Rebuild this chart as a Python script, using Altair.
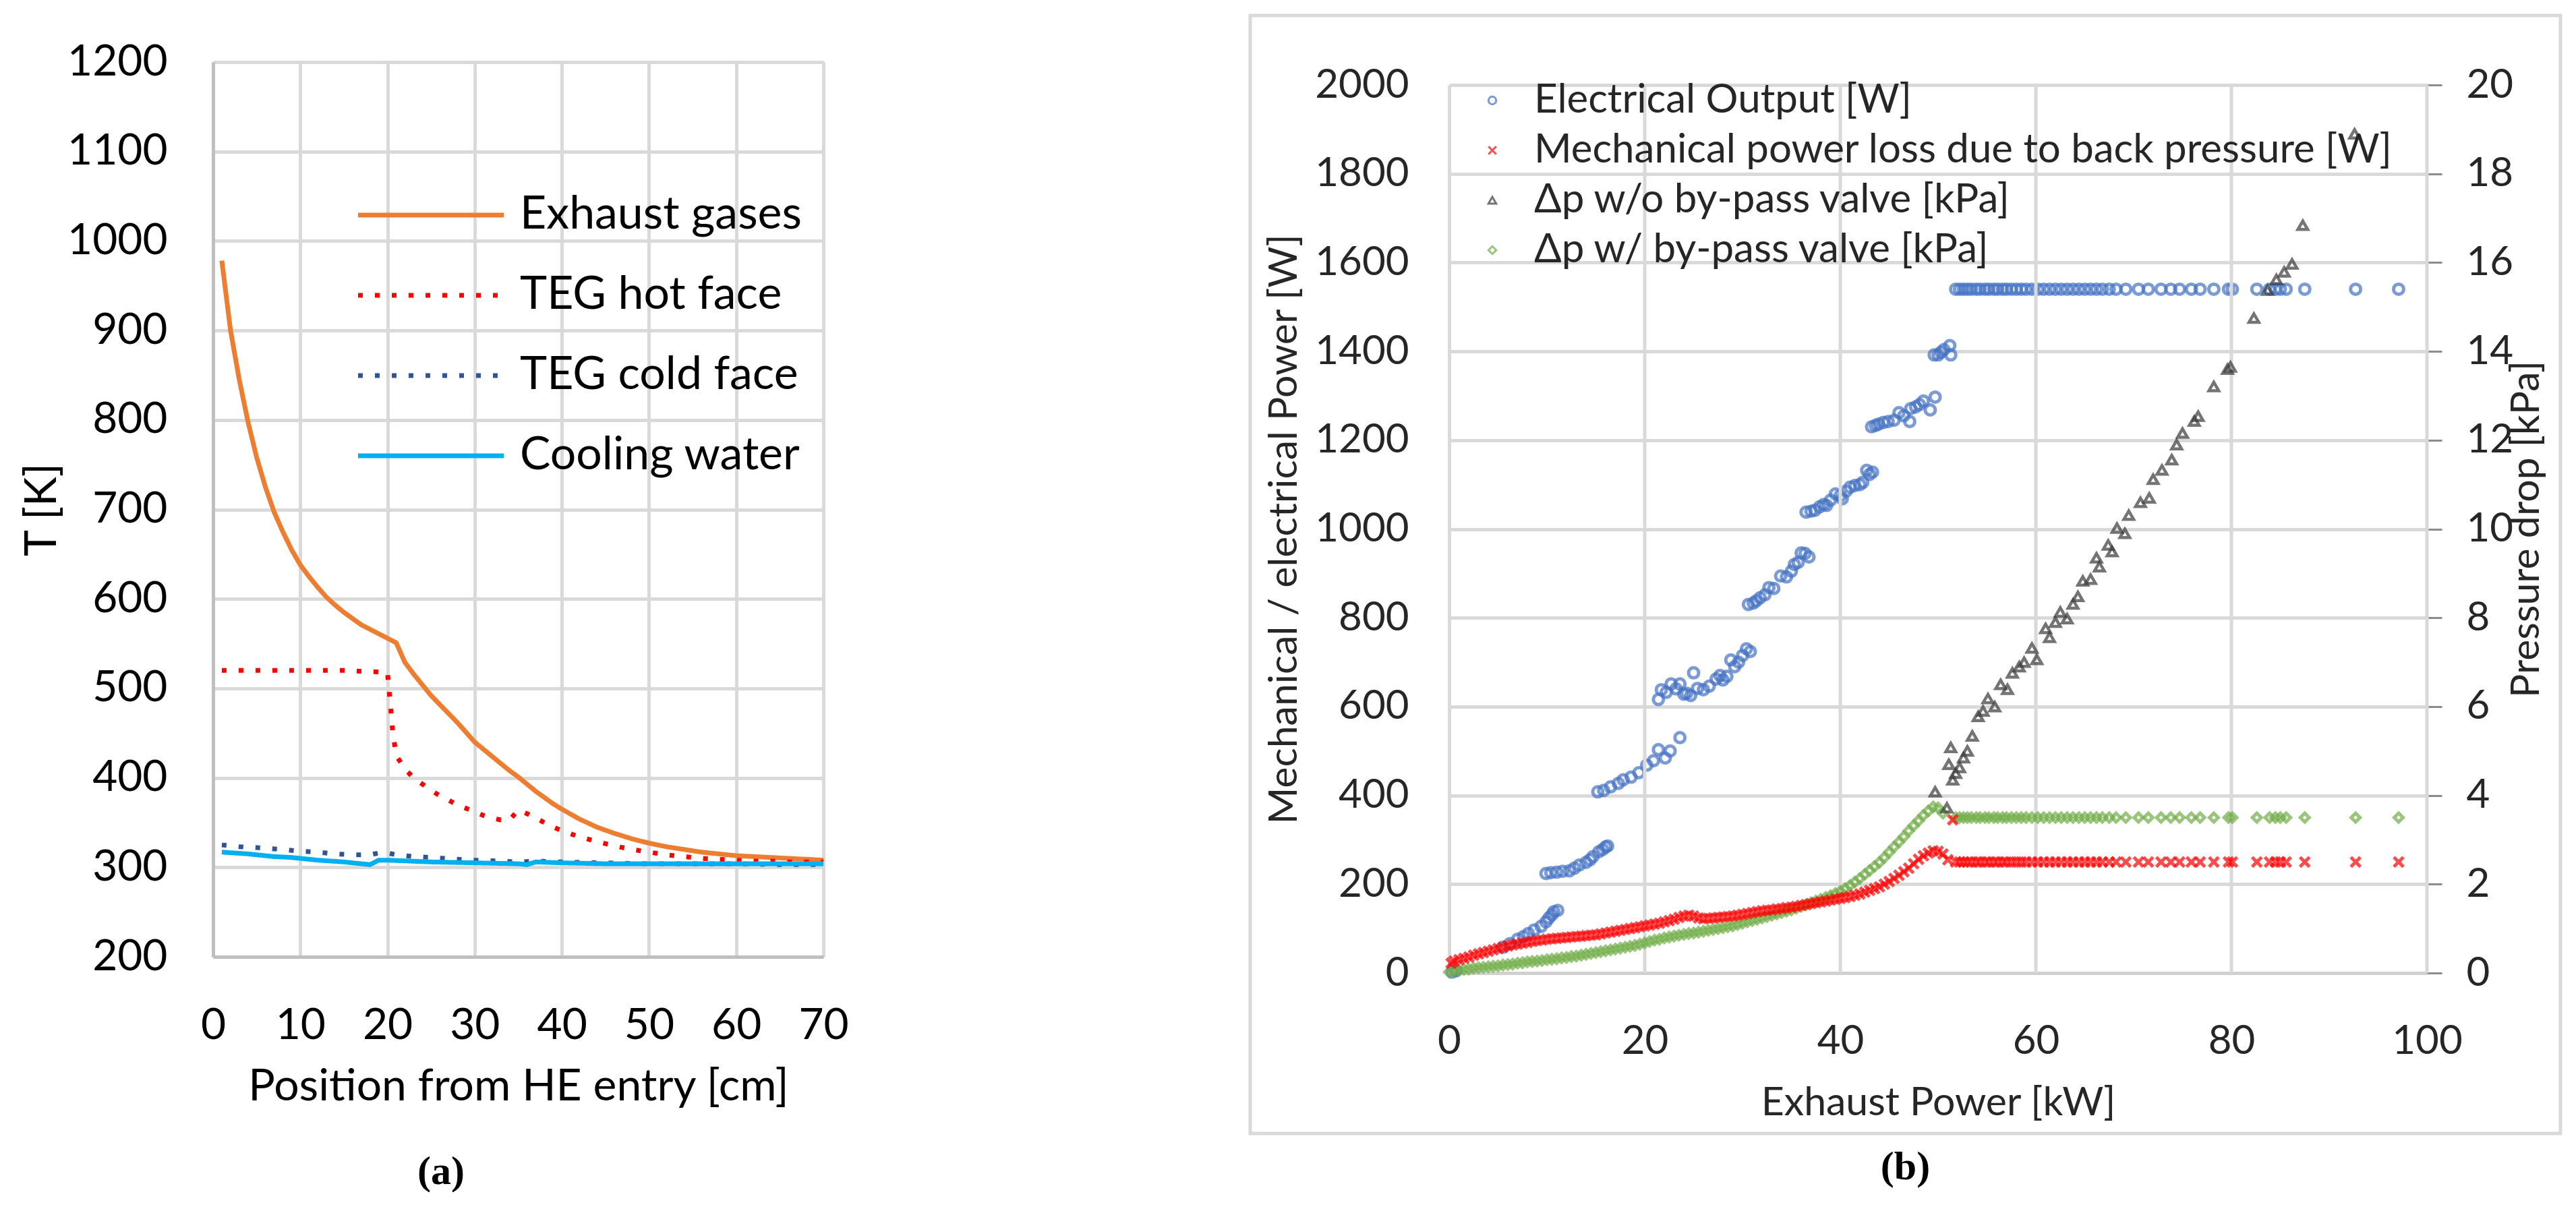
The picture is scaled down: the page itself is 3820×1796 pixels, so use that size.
import altair as alt
import pandas as pd

# ---------------- Panel (a): temperatures along the heat exchanger ----------------
names_a = ["Exhaust gases", "TEG hot face", "TEG cold face", "Cooling water"]
colors_a = ["#ED7D31", "#FF0000", "#2F5597", "#00B0F0"]
dashes_a = [[1, 0], [7, 18], [7, 18], [1, 0]]

exh_x = [1, 2, 3, 4, 5, 6, 7, 8, 9, 10, 11, 12, 13, 14, 15, 16, 17, 18, 19, 20,
         21, 22, 23, 24, 25, 26, 27, 28, 29, 30, 31, 32, 33, 34, 35, 36, 37, 38, 39, 40,
         42, 44, 46, 48, 50, 52, 54, 56, 58, 60, 62, 64, 66, 68, 70]
exh_T = [978, 900, 845, 798, 758, 725, 697, 675, 655, 638, 625, 613, 602, 593, 585, 578, 571, 566, 561, 556,
         551, 529, 516, 504, 492, 482, 472, 462, 451, 440, 432, 424, 416, 408, 401, 393, 385, 378, 371, 365,
         354, 345, 338, 332, 327, 323, 320, 317, 315, 313, 312, 311, 310, 309, 308]

hot_x = [1, 5, 10, 15, 20, 20.3, 20.6, 21, 22, 23, 24, 25, 26, 27, 28, 29, 30, 31, 32, 33, 34, 35, 36, 37,
         38, 39, 40, 42, 44, 46, 48, 50, 52, 54, 56, 58, 60, 62, 64, 66, 68, 70]
hot_T = [520, 520, 520, 520, 518, 485, 452, 425, 410, 400, 393, 386, 380, 375, 370, 366, 362, 358, 355, 353,
         353, 364, 360, 355, 350, 345, 341, 334, 329, 324, 320, 317, 314, 312, 310, 309, 308, 307, 307, 306,
         306, 306]

cold_x = [1, 3, 5, 8, 10, 12, 14, 16, 18, 19, 20, 21, 23, 25, 28, 30, 33, 35, 37, 40, 45, 50, 55, 60, 65, 70]
cold_T = [325, 323, 322, 320, 318, 317, 315, 314, 314, 316, 316, 314, 312, 311, 309, 308, 307, 306, 307, 306,
          305, 304, 304, 304, 303, 303]

cool_x = [1, 4, 7, 9, 12, 15, 18, 19, 20, 25, 30, 35, 36, 37, 40, 45, 50, 55, 60, 65, 70]
cool_T = [317, 315, 312, 311, 308, 306, 303, 308, 308, 306, 305, 304, 303, 306, 305, 304, 304, 304, 304, 304, 304]

# ---------------- Panel (b): power and pressure drop vs exhaust power ----------------
names_b = ["Electrical Output [W]", "Mechanical power loss due to back pressure [W]",
           "Δp w/o by-pass valve [kPa]", "Δp w/ by-pass valve [kPa]"]
colors_b = ["#4472C4", "#FF0000", "#3A3A3A", "#70AD47"]
shapes_b = ["circle", "M-1,-1L1,1M-1,1L1,-1", "triangle-up", "diamond"]
xgrid_b = [20, 40, 60, 80, 100]

flat_x = [51.8, 52.2, 52.6, 53.0, 53.4, 53.9, 54.3, 54.8, 55.2, 55.7, 56.1, 56.6, 57.0, 57.5, 58.0, 58.5,
          59.0, 59.6, 60.2, 60.8, 61.4, 62.0, 62.6, 63.2, 63.8, 64.4, 65.0, 65.6, 66.2, 66.8, 67.5, 68.2,
          69.2, 70.5, 71.5, 72.8, 73.8, 74.7, 75.9, 76.8, 78.2, 79.7, 80.1, 82.6, 83.9, 84.5, 85.0, 85.6,
          87.5, 92.7, 97.1]

elec_x = [0.3, 0.7,
          5.5, 6.2, 7.0, 7.6, 8.1, 8.7, 9.4, 9.9, 10.2, 10.5, 10.7, 11.1,
          9.9, 10.4, 11.0, 11.6, 12.3, 12.8, 13.3, 14.0, 14.4, 14.7, 15.3, 15.7, 16.0, 16.2,
          15.2, 15.8, 16.5, 17.3, 17.8, 18.6, 19.4, 20.2, 20.9, 21.4, 22.1, 22.6, 23.6,
          21.4, 21.7, 22.2, 22.7, 23.2, 23.6, 24.0, 24.3, 24.7, 25.0, 25.4, 26.0, 26.6, 27.3, 27.7, 28.0,
          28.4, 28.8, 29.2, 29.6, 30.0, 30.4, 30.8,
          30.6, 31.1, 31.4, 31.8, 32.3, 32.7, 33.2, 33.9, 34.5, 35.0, 35.3, 35.7, 36.0, 36.4, 36.8,
          36.5, 37.0, 37.4, 37.9, 38.3, 38.6, 39.0, 39.5, 40.0, 40.2, 40.6, 41.0, 41.5, 42.0, 42.3, 42.7,
          43.0, 43.3,
          43.2, 43.6, 43.9, 44.4, 44.9, 45.5, 46.0, 46.5, 47.1, 47.2, 47.7, 48.1, 48.5, 49.2, 49.7,
          49.6, 50.0, 50.3, 50.6, 51.2, 51.3]
elec_y = [2, 5,
          58, 66, 76, 82, 89, 97, 105, 115, 124, 131, 138, 141,
          224, 226, 227, 229, 230, 236, 243, 249, 255, 262, 273, 278, 284, 286,
          408, 411, 419, 427, 435, 441, 451, 468, 478, 503, 484, 500, 530,
          616, 638, 632, 651, 640, 651, 628, 630, 625, 676, 641, 638, 646, 662, 670, 660,
          668, 705, 690, 700, 715, 730, 724,
          830, 833, 838, 845, 852, 868, 866, 894, 892, 905, 920, 925, 946, 945, 937,
          1038, 1040, 1042, 1050, 1055, 1053, 1065, 1079, 1075, 1068, 1085, 1094, 1098, 1100, 1105, 1132,
          1123, 1128,
          1230, 1233, 1236, 1240, 1242, 1245, 1262, 1255, 1242, 1271, 1275, 1280, 1288, 1268, 1297,
          1392, 1392, 1398, 1404, 1413, 1392]
elec_flat_y = 1540

mech_x = [0.2, 0.5, 1.0, 1.5, 2.0, 2.5, 3.0, 3.5, 4.0, 4.5, 5.0, 5.5, 6.0, 6.5, 7.0, 7.5, 8.0, 8.5, 9.0, 9.5,
          10.0, 10.5, 11.0, 11.5, 12.0, 12.5, 13.0, 13.5, 14.0, 14.5, 15.0, 15.5, 16.0, 16.5, 17.0, 17.5,
          18.0, 18.5, 19.0, 19.5, 20.0, 20.5, 21.0, 21.5, 22.0, 22.5, 23.0, 23.5, 24.0, 24.5, 25.0, 25.5,
          26.0, 26.5, 27.0, 27.5, 28.0, 28.5, 29.0, 29.5, 30.0, 30.5, 31.0, 31.5, 32.0, 32.5, 33.0, 33.5,
          34.0, 34.5, 35.0, 35.5, 36.0, 36.5, 37.0, 37.5, 38.0, 38.5, 39.0, 39.5, 40.0, 40.5, 41.0, 41.5,
          42.0, 42.5, 43.0, 43.5, 44.0, 44.5, 45.0, 45.5, 46.0, 46.5, 47.0, 47.5, 48.0, 48.5, 49.0, 49.5,
          50.0, 50.5, 51.0, 51.5]
mech_y = [22, 27, 30, 33, 36, 40, 43, 46, 49, 52, 55, 58, 61, 63, 65, 67, 69, 71, 73, 74,
          76, 77, 78, 79, 80, 81, 82, 83, 84, 85, 86, 88, 90, 92, 94, 96, 98, 100, 102, 104,
          106, 108, 110, 112, 115, 118, 121, 125, 128, 130, 128, 124, 122, 123, 124, 125, 126, 127, 128, 130,
          132, 134, 136, 138, 140, 141, 142, 144, 145, 147, 148, 150, 152, 154, 156, 158, 160, 162, 164, 166,
          168, 170, 172, 175, 178, 182, 186, 190, 194, 200, 206, 213, 220, 228, 236, 246, 256, 264, 270, 275,
          274, 268, 255, 345]
mech_flat_y = 250

dpw_x = [0.0, 0.5, 1.0, 1.5, 2.0, 2.5, 3.0, 3.5, 4.0, 4.5, 5.0, 5.5, 6.0, 6.5, 7.0, 7.5, 8.0, 8.5, 9.0, 9.5,
         10.0, 10.5, 11.0, 11.5, 12.0, 12.5, 13.0, 13.5, 14.0, 14.5, 15.0, 15.5, 16.0, 16.5, 17.0, 17.5,
         18.0, 18.5, 19.0, 19.5, 20.0, 20.5, 21.0, 21.5, 22.0, 22.5, 23.0, 23.5, 24.0, 24.5, 25.0, 25.5,
         26.0, 26.5, 27.0, 27.5, 28.0, 28.5, 29.0, 29.5, 30.0, 30.5, 31.0, 31.5, 32.0, 32.5, 33.0, 33.5,
         34.0, 34.5, 35.0, 35.5, 36.0, 36.5, 37.0, 37.5, 38.0, 38.5, 39.0, 39.5, 40.0, 40.5, 41.0, 41.5,
         42.0, 42.5, 43.0, 43.5, 44.0, 44.5, 45.0, 45.5, 46.0, 46.5, 47.0, 47.5, 48.0, 48.5, 49.0, 49.5,
         50.0, 50.5]
dpw_y = [0.02, 0.04, 0.06, 0.08, 0.09, 0.11, 0.12, 0.13, 0.14, 0.15,
         0.16, 0.18, 0.19, 0.20, 0.22, 0.23, 0.25, 0.26, 0.27, 0.28,
         0.30, 0.31, 0.32, 0.34, 0.35, 0.37, 0.38, 0.40, 0.42, 0.44,
         0.46, 0.48, 0.50, 0.52, 0.54, 0.56, 0.58, 0.60, 0.62, 0.65,
         0.68, 0.71, 0.74, 0.76, 0.79, 0.81, 0.83, 0.85, 0.87, 0.89,
         0.90, 0.92, 0.94, 0.96, 0.98, 1.00, 1.02, 1.04, 1.06, 1.09,
         1.12, 1.15, 1.18, 1.21, 1.24, 1.27, 1.30, 1.33, 1.36, 1.39,
         1.42, 1.46, 1.50, 1.54, 1.58, 1.62, 1.66, 1.70, 1.74, 1.79,
         1.84, 1.90, 1.97, 2.05, 2.13, 2.22, 2.31, 2.40, 2.49, 2.60,
         2.72, 2.84, 2.95, 3.07, 3.20, 3.32, 3.43, 3.55, 3.65, 3.74,
         3.72, 3.60]
dpw_flat_y = 3.5

dpwo_x = [49.7, 50.9, 51.1, 51.3, 51.5, 51.8, 52.2, 52.6, 53.0, 53.5, 54.1, 54.6, 55.1, 55.8, 56.4, 57.1,
          57.6, 58.3, 58.8, 59.6, 60.1, 61.0, 61.4, 62.0, 62.5, 63.2, 63.8, 64.3, 64.8, 65.6, 66.2, 66.5,
          67.4, 67.8, 68.3, 69.1, 69.5, 70.7, 71.6, 72.0, 72.9, 73.9, 74.4, 75.0, 76.2, 76.6, 78.2, 79.6,
          79.9, 82.3, 83.7, 84.6, 85.4, 86.2, 87.3, 92.6]
dpwo_y = [4.08, 3.72, 4.70, 5.08, 4.35, 4.50, 4.63, 4.85, 5.00, 5.34, 5.78, 5.90, 6.18, 6.00, 6.50, 6.39,
          6.76, 6.90, 7.00, 7.32, 7.06, 7.76, 7.56, 7.90, 8.13, 7.98, 8.31, 8.48, 8.83, 8.87, 9.35, 9.15,
          9.64, 9.49, 10.02, 9.90, 10.31, 10.60, 10.70, 11.12, 11.33, 11.56, 11.90, 12.16, 12.43, 12.54, 13.21, 13.60,
          13.65, 14.75, 15.38, 15.62, 15.79, 15.97, 16.84, 18.90]

FONT = "Lato"

# ---------------- build tables ----------------
df_a = pd.concat([
    pd.DataFrame({"x": exh_x, "y": exh_T, "series": names_a[0]}),
    pd.DataFrame({"x": hot_x, "y": hot_T, "series": names_a[1]}),
    pd.DataFrame({"x": cold_x, "y": cold_T, "series": names_a[2]}),
    pd.DataFrame({"x": cool_x, "y": cool_T, "series": names_a[3]}),
], ignore_index=True)

df_elec = pd.DataFrame({"x": elec_x + flat_x, "y": elec_y + [elec_flat_y] * len(flat_x), "series": names_b[0]})
df_mech = pd.DataFrame({"x": mech_x + flat_x, "y": mech_y + [mech_flat_y] * len(flat_x), "series": names_b[1]})
df_dpwo = pd.DataFrame({"x": dpwo_x, "y": dpwo_y, "series": names_b[2]})
df_dpw = pd.DataFrame({"x": dpw_x + flat_x, "y": dpw_y + [dpw_flat_y] * len(flat_x), "series": names_b[3]})
df_grid_b = pd.DataFrame({"x": xgrid_b, "lo": 0, "hi": 2000})

# ---------------- panel (a) ----------------
H_A = 1327
# long line symbols: custom path from the entry centre to the right (length = 4*sqrt(size) = 216 px)
leg_a = alt.Legend(title=None, orient="none", legendX=181, legendY=193, symbolType="M0,0L8,0",
                   symbolSize=2916, symbolStrokeWidth=7, labelFontSize=68, labelFont=FONT,
                   labelColor="black", labelOffset=206, rowPadding=51, padding=0, labelLimit=2000)

x_a = alt.X("x:Q", scale=alt.Scale(domain=[0, 70], nice=False, zero=False),
            axis=alt.Axis(values=list(range(0, 71, 10)), title="Position from HE entry [cm]", format="d",
                          labelFontSize=64, titleFontSize=66, labelFont=FONT, titleFont=FONT,
                          labelColor="black", titleColor="black", titleFontWeight="normal",
                          labelPadding=70, titlePadding=26, grid=True, gridColor="#D9D9D9", gridWidth=5,
                          domainColor="#BFBFBF", domainWidth=5, ticks=False, labelFlush=False))
y_a = alt.Y("y:Q", scale=alt.Scale(domain=[200, 1200], nice=False, zero=False),
            axis=alt.Axis(values=list(range(200, 1201, 100)), title="T [K]", format="d",
                          labelFontSize=64, titleFontSize=66, labelFont=FONT, titleFont=FONT,
                          labelColor="black", titleColor="black", titleFontWeight="normal",
                          labelPadding=68, titlePadding=20, grid=True, gridColor="#D9D9D9", gridWidth=5,
                          domainColor="#BFBFBF", domainWidth=5, ticks=False, labelFlush=False))

lines_a = alt.Chart(df_a).mark_line(strokeWidth=7, strokeJoin="round").encode(
    x=x_a, y=y_a,
    color=alt.Color("series:N", scale=alt.Scale(domain=names_a, range=colors_a), legend=leg_a),
    strokeDash=alt.StrokeDash("series:N", scale=alt.Scale(domain=names_a, range=dashes_a), legend=leg_a),
)

pad_a = alt.Chart(pd.DataFrame({"k": [0]})).mark_rect(opacity=0).encode(
    x=alt.value(-308), x2=alt.value(984), y=alt.value(-71), y2=alt.value(1592))

panel_a = alt.layer(lines_a, pad_a).properties(
    width=905, height=H_A,
    title=alt.TitleParams("(a)", orient="bottom", font="Liberation Serif", fontSize=60,
                          fontWeight="bold", color="black", offset=25, anchor="middle", frame="bounds"))

# ---------------- panel (b) ----------------
H_B = 1351          # plot group height; the data range starts 34 px lower than panel (a)
TOP_B = 34
leg_b = alt.Legend(title=None, orient="none", legendX=34, legendY=27, symbolSize=130,
                   symbolStrokeWidth=3, labelFontSize=60, labelFont=FONT, labelColor="#262626",
                   labelOffset=32, rowPadding=14, padding=0, labelLimit=3000)
color_b = alt.Color("series:N", scale=alt.Scale(domain=names_b, range=colors_b), legend=leg_b)
shape_b = alt.Shape("series:N", scale=alt.Scale(domain=names_b, range=shapes_b), legend=leg_b)

x_b = alt.X("x:Q", scale=alt.Scale(domain=[0, 100], nice=False, zero=False),
            axis=alt.Axis(values=list(range(0, 101, 20)), title="Exhaust Power [kW]", format="d",
                          labelFontSize=60, titleFontSize=59, labelFont=FONT, titleFont=FONT,
                          labelColor="#262626", titleColor="#262626", titleFontWeight="normal",
                          labelPadding=72, titlePadding=32, grid=False,
                          domainColor="#D0D0D0", domainWidth=5, ticks=False, labelFlush=False))

yW_axis = alt.Axis(values=list(range(0, 2001, 200)), title="Mechanical / electrical Power [W]", format="d",
                   labelFontSize=60, titleFontSize=59, labelFont=FONT, titleFont=FONT,
                   labelColor="#262626", titleColor="#262626", titleFontWeight="normal",
                   labelPadding=60, titlePadding=15, grid=True, gridColor="#D9D9D9", gridWidth=5,
                   domainColor="#D9D9D9", domainWidth=5, ticks=False, labelFlush=False)
yP_axis = alt.Axis(values=list(range(0, 21, 2)), title="Pressure drop [kPa]", orient="right", format="d",
                   labelFontSize=60, titleFontSize=59, labelFont=FONT, titleFont=FONT,
                   labelColor="#262626", titleColor="#262626", titleFontWeight="normal",
                   labelPadding=36, titlePadding=-9, titleAngle=270, titleBaseline="top",
                   grid=False, domainColor="#8C8C8C", domainWidth=3, labelFlush=False,
                   ticks=True, tickSize=22, tickWidth=3, tickColor="#8C8C8C")

scale_W = alt.Scale(domain=[0, 2000], nice=False, zero=False, range=[H_B, TOP_B])
scale_P = alt.Scale(domain=[0, 20], nice=False, zero=False, range=[H_B, TOP_B])

# vertical grid lines, limited to the data range (0..2000 W)
grid_b = alt.Chart(df_grid_b).mark_rule(color="#D9D9D9", strokeWidth=5).encode(
    x=x_b, y=alt.Y("lo:Q", scale=scale_W, axis=None), y2="hi:Q")

elec = alt.Chart(df_elec).mark_point(filled=False, size=225, strokeWidth=5).encode(
    x=x_b, y=alt.Y("y:Q", scale=scale_W, axis=yW_axis), color=color_b, shape=shape_b)
dpw = alt.Chart(df_dpw).mark_point(filled=False, size=170, strokeWidth=5).encode(
    x=x_b, y=alt.Y("y:Q", scale=scale_P, axis=yP_axis), color=color_b, shape=shape_b)
dpwo = alt.Chart(df_dpwo).mark_point(filled=False, size=210, strokeWidth=4.5).encode(
    x=x_b, y=alt.Y("y:Q", scale=scale_P, axis=None), color=color_b, shape=shape_b)
mech = alt.Chart(df_mech).mark_point(filled=False, size=200, strokeWidth=5).encode(
    x=x_b, y=alt.Y("y:Q", scale=scale_W, axis=None), color=color_b, shape=shape_b)

frame_b = alt.Chart(pd.DataFrame({"k": [0]})).mark_rect(
    filled=False, stroke="#D9D9D9", strokeWidth=5).encode(
    x=alt.value(-295), x2=alt.value(1648), y=alt.value(-69), y2=alt.value(1589))

panel_b = alt.layer(elec, grid_b, dpw, dpwo, mech, frame_b).resolve_scale(y="independent").properties(
    width=1450, height=H_B,
    title=alt.TitleParams("(b)", orient="bottom", font="Liberation Serif", fontSize=60,
                          fontWeight="bold", color="black", offset=18, anchor="middle", frame="bounds"))

chart = alt.hconcat(panel_a, panel_b, spacing=551).resolve_scale(
    color="independent", shape="independent", strokeDash="independent", x="independent"
).resolve_legend(color="independent", shape="independent", strokeDash="independent").properties(
    padding={"left": 0, "top": 12, "right": 0, "bottom": 0}
).configure_view(stroke=None)

chart.save("out.html", embed_options={"renderer": "svg", "actions": False})
